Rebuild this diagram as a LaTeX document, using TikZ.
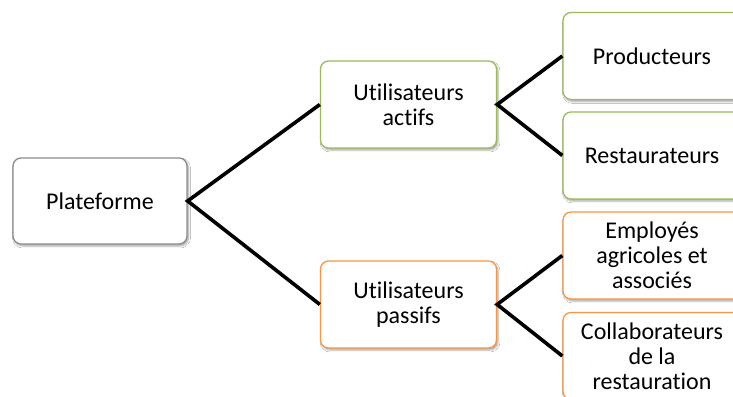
\documentclass[tikz,border=0pt]{standalone}
\usepackage{fontspec}
\setmainfont{Carlito}[Ligatures=NoCommon]
\usetikzlibrary{shadows.blur}
\definecolor{grn}{HTML}{9BBB59}
\definecolor{org}{HTML}{F79646}
\definecolor{gry}{HTML}{8C8C8C}
\tikzset{
  box/.style={rectangle, rounded corners=8pt, fill=white, line width=1.3pt,
    minimum width=176pt, minimum height=87pt, align=center, inner sep=2pt,
    font=\fontsize{24}{25}\selectfont,
    blur shadow={shadow xshift=1.5pt, shadow yshift=-2pt, shadow blur steps=5, shadow opacity=35}},
  gbox/.style={box, draw=grn},
  obox/.style={box, draw=org},
  pbox/.style={box, draw=gry},
  link/.style={line width=3.6pt, line join=miter},
}
\begin{document}
\begin{tikzpicture}[x=1pt,y=1pt]
\useasboundingbox (0,0) rectangle (733,-396);
\clip (0,0) rectangle (733,-396);
\fill[white] (0,0) rectangle (733,-396);
\node[pbox, minimum width=174pt, minimum height=86pt] (plat) at (100,-201) {Plateforme};
\node[gbox] (act) at (408.5,-104.5) {Utilisateurs\\actifs};
\node[obox] (pas) at (408.5,-304.5) {Utilisateurs\\passifs};
\node[gbox, minimum width=178pt] (prod) at (652,-56) {Producteurs};
\node[gbox, minimum width=178pt] (rest) at (652,-155.5) {Restaurateurs};
\node[obox, minimum width=178pt] (emp) at (652,-255.5) {Employés\\agricoles et\\associés};
\node[obox, minimum width=178pt] (coll) at (652,-356) {Collaborateurs\\de la\\restauration};
\draw[link] (act.west) -- (plat.east) -- (pas.west);
\draw[link] (prod.west) -- (act.east) -- (rest.west);
\draw[link] (emp.west) -- (pas.east) -- (coll.west);
\end{tikzpicture}
\end{document}
